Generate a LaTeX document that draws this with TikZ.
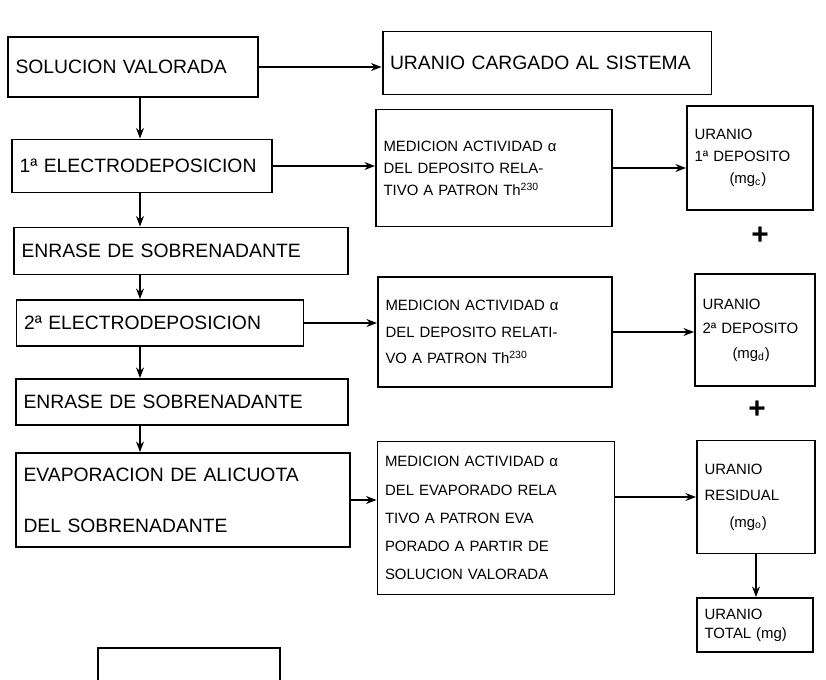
\documentclass[tikz,border=0pt]{standalone}
\usepackage{fontspec}
\setmainfont{Liberation Sans}
\usetikzlibrary{arrows.meta}

\begin{document}
\begin{tikzpicture}[x=0.02cm,y=-0.02cm,
    caja/.style={draw,line width=1.1pt,inner xsep=0.15cm,inner ysep=0pt,align=left,font=\fontsize{11}{13}\selectfont},
    chica/.style={caja,font=\fontsize{8.5}{12.5}\selectfont},
    signo/.style={font=\bfseries\fontsize{17}{17}\selectfont},
    flecha/.style={-{Stealth[length=6pt,width=4.5pt]},line width=1.2pt}]
    \useasboundingbox (0,0) rectangle (826,680);

    % Cadena principal
    \node[caja,text width=4.7cm,minimum height=1.2cm] (sol) at (133,67) {SOLUCION VALORADA};
    \node[caja,text width=6.28cm,minimum height=1.26cm] (carg) at (547,63) {URANIO CARGADO AL SISTEMA};
    \node[caja,text width=4.9cm,minimum height=1.06cm] (el1) at (142,166) {1ª ELECTRODEPOSICION};
    \node[caja,text width=6.38cm,minimum height=0.94cm] (enr1) at (181,251) {ENRASE DE SOBRENADANTE};
    \node[caja,text width=5.44cm,minimum height=0.92cm] (el2) at (160,323) {2ª ELECTRODEPOSICION};
    \node[caja,text width=6.34cm,minimum height=0.92cm] (enr2) at (182,402) {ENRASE DE SOBRENADANTE};
    \node[caja,text width=6.38cm,minimum height=1.88cm,font=\fontsize{11}{29}\selectfont] (evap) at (183,500) {EVAPORACION DE ALICUOTA\\DEL SOBRENADANTE};
    \node[caja,minimum width=3.64cm,minimum height=1.04cm] (pie) at (189,674) {};

    % Mediciones
    \node[chica,text width=4.42cm,minimum height=2.34cm] (med1) at (494,168) {MEDICION ACTIVIDAD α\\DEL DEPOSITO RELA-\\TIVO A PATRON Th\textsuperscript{230}};
    \node[chica,text width=4.38cm,minimum height=2.2cm,font=\fontsize{8.5}{15}\selectfont] (med2) at (495,332) {MEDICION ACTIVIDAD α\\DEL DEPOSITO RELATI-\\VO A PATRON Th\textsuperscript{230}};
    \node[chica,text width=4.44cm,minimum height=3.06cm,font=\fontsize{8.5}{16}\selectfont] (med3) at (496,518) {MEDICION ACTIVIDAD α\\DEL EVAPORADO RELA\\TIVO A PATRON EVA\\PORADO A PARTIR DE\\SOLUCION VALORADA};

    % Uranio
    \node[chica,text width=2.22cm,minimum height=2.08cm] (ur1) at (750,158) {URANIO\\1ª DEPOSITO\\\hspace*{0.7cm}(mg\textsubscript{c})};
    \node[chica,text width=2.1cm,minimum height=2.24cm,font=\fontsize{8.5}{14}\selectfont] (ur2) at (755,330) {URANIO\\2ª DEPOSITO\\\hspace*{0.6cm}(mg\textsubscript{d})};
    \node[chica,text width=2.06cm,minimum height=2.26cm,font=\fontsize{8.5}{15}\selectfont] (ures) at (756,497) {URANIO\\RESIDUAL\\\hspace*{0.5cm}(mg\textsubscript{o})};
    \node[chica,text width=2.02cm,minimum height=1.08cm,font=\fontsize{8.5}{11}\selectfont] (utot) at (755,625) {URANIO\\TOTAL (mg)};
    \node[signo] (mas1) at (760,236) {+};
    \node[signo] (mas2) at (757,410) {+};

    % Flechas
    \coordinate (eje) at (140,0);
    \draw[flecha] (sol.east) -- (sol.east -| carg.west);
    \draw[flecha] (eje |- sol.south) -- (eje |- el1.north);
    \draw[flecha] (eje |- el1.south) -- (eje |- enr1.north);
    \draw[flecha] (eje |- enr1.south) -- (eje |- el2.north);
    \draw[flecha] (eje |- el2.south) -- (eje |- enr2.north);
    \draw[flecha] (eje |- enr2.south) -- (eje |- evap.north);
    \draw[flecha] (el1.east) -- (el1.east -| med1.west);
    \draw[flecha] (med1.east) -- (med1.east -| ur1.west);
    \draw[flecha] (el2.east) -- (el2.east -| med2.west);
    \draw[flecha] (med2.east) -- (med2.east -| ur2.west);
    \draw[flecha] (evap.east) -- (evap.east -| med3.west);
    \draw[flecha] (ures.west -| med3.east) -- (ures.west);
    \draw[flecha] (ures.south) -- (ures.south |- utot.north);
\end{tikzpicture}
\end{document}
